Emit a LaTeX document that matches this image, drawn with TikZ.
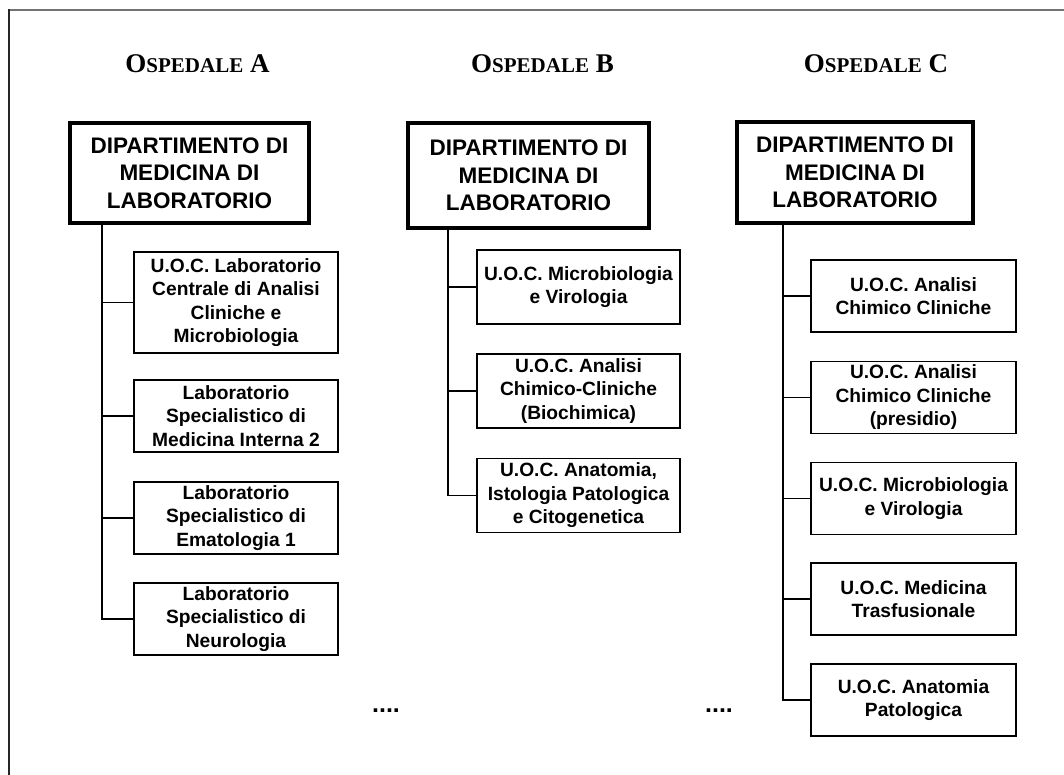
\documentclass[tikz,border=0pt]{standalone}
\usepackage{fontspec}
\setmainfont{Liberation Sans}
\newfontfamily\titlefont{Liberation Serif}
\usetikzlibrary{calc}

\tikzset{
  dept/.style={draw=black, line width=4.5pt, align=center, inner sep=0pt,
    font=\bfseries\fontsize{22.5}{27.5}\selectfont},
  unit/.style={draw=black, line width=1.8pt, align=center, inner sep=0pt,
    minimum width=204pt, minimum height=72pt,
    font=\bfseries\fontsize{19.2}{23.5}\selectfont},
  link/.style={draw=black, line width=1.4pt},
  hosp/.style={anchor=base, inner sep=0pt},
  more/.style={inner sep=0pt, font=\bfseries\fontsize{25}{25}\selectfont}
}
\newcommand{\hospname}[1]{\titlefont\bfseries\fontsize{27}{27}\selectfont
  O{\fontsize{21}{27}\selectfont SPEDALE} #1}

\begin{document}
\begin{tikzpicture}[x=1pt,y=-1pt]
\useasboundingbox (0,0) rectangle (1064,775);
% outer frame
\draw[line width=1.5pt, black!55] (9,10) -- (1064,10);
\draw[line width=1.5pt, black!85] (9,775) -- (9,9.25);

% hospital titles
\node[hosp] (tA) at (197.5,73) {\hospname{A}};
\node[hosp] (tB) at (542.5,73) {\hospname{B}};
\node[hosp] (tC) at (876,73) {\hospname{C}};

% department boxes
\node[dept, minimum width=239pt, minimum height=100pt] (dA) at (189.5,173)
  {DIPARTIMENTO DI\\MEDICINA DI\\LABORATORIO};
\node[dept, minimum width=241pt, minimum height=105pt] (dB) at (528.5,175.5)
  {DIPARTIMENTO DI\\MEDICINA DI\\LABORATORIO};
\node[dept, minimum width=236pt, minimum height=101pt] (dC) at (855,172.5)
  {DIPARTIMENTO DI\\MEDICINA DI\\LABORATORIO};

% units, hospital A
\node[unit, minimum height=101pt] (a1) at (236,302.5)
  {U.O.C. Laboratorio\\Centrale di Analisi\\Cliniche e\\Microbiologia};
\node[unit] (a2) at (236,416) {Laboratorio\\Specialistico di\\Medicina Interna 2};
\node[unit] (a3) at (236,518) {Laboratorio\\Specialistico di\\Ematologia 1};
\node[unit] (a4) at (236,619) {Laboratorio\\Specialistico di\\Neurologia};

% units, hospital B
\node[unit, minimum width=203pt, minimum height=74pt] (b1) at (578.5,287)
  {U.O.C. Microbiologia\\e Virologia};
\node[unit, minimum width=203pt, minimum height=74pt] (b2) at (578.5,391)
  {U.O.C. Analisi\\Chimico-Cliniche\\(Biochimica)};
\node[unit, minimum width=203pt, minimum height=74pt] (b3) at (578.5,495.5)
  {U.O.C. Anatomia,\\Istologia Patologica\\e Citogenetica};

% units, hospital C
\node[unit, minimum width=205pt] (c1) at (913.5,296) {U.O.C. Analisi\\Chimico Cliniche};
\node[unit, minimum width=205pt] (c2) at (913.5,397.5) {U.O.C. Analisi\\Chimico Cliniche\\(presidio)};
\node[unit, minimum width=205pt] (c3) at (913.5,498.5) {U.O.C. Microbiologia\\e Virologia};
\node[unit, minimum width=205pt] (c4) at (913.5,599) {U.O.C. Medicina\\Trasfusionale};
\node[unit, minimum width=205pt] (c5) at (913.5,700) {U.O.C. Anatomia\\Patologica};

% trunk roots under each department box
\coordinate (rA) at (dA.south -| 102,0);
\coordinate (rB) at (dB.south -| 448,0);
\coordinate (rC) at (dC.south -| 783,0);

% tree connectors
\draw[link] (rA) |- (a4.west);
\foreach \n in {a1,a2,a3} \draw[link] (rA |- \n.west) -- (\n.west);
\draw[link] (rB) |- (b3.west);
\foreach \n in {b1,b2} \draw[link] (rB |- \n.west) -- (\n.west);
\draw[link] (rC) |- (c5.west);
\foreach \n in {c1,c2,c3,c4} \draw[link] (rC |- \n.west) -- (\n.west);

% continuation marks
\node[more] (mB) at (386,711) {....};
\node[more] (mC) at (719,711) {....};
\end{tikzpicture}
\end{document}
